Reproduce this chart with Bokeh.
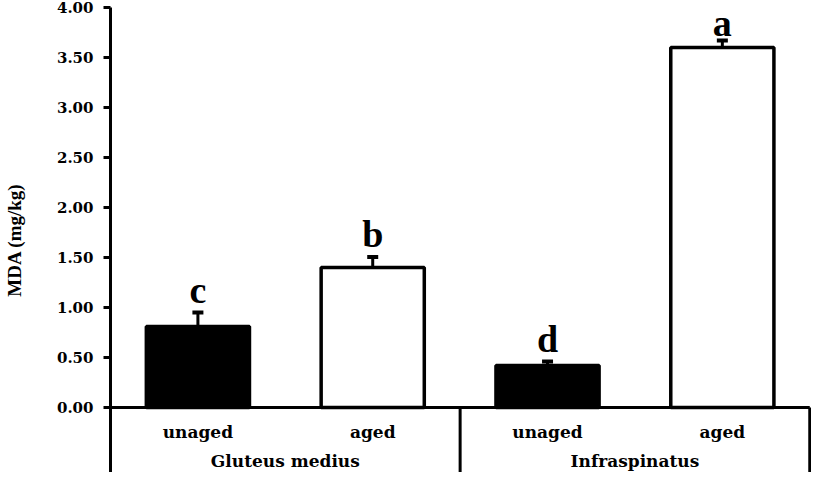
from bokeh.plotting import figure
from bokeh.models import (Range1d, FixedTicker, ColumnDataSource, Whisker, TeeHead,
                          NumeralTickFormatter, LabelSet)
from bokeh.embed import file_html
from bokeh.resources import INLINE
from bokeh.core.properties import value

# ---- data ----
muscles = ["Gluteus medius", "Infraspinatus"]
conditions = ["unaged", "aged"]
mda = [0.81, 1.40, 0.42, 3.60]          # mean MDA (mg/kg)
err = [0.14, 0.105, 0.04, 0.07]         # error bar half-length
letters = ["c", "b", "d", "a"]          # significance letters
y_ticks = [0.0, 0.5, 1.0, 1.5, 2.0, 2.5, 3.0, 3.5, 4.0]

# ---- derived positions (one slot per bar) ----
n_slots = len(muscles) * len(conditions)
xs = [i + 0.5 for i in range(n_slots)]
cond_labels = [c for m in muscles for c in conditions]
fills = ["black" if c == "unaged" else "white" for c in cond_labels]
group_x = [len(conditions) * (g + 0.5) for g in range(len(muscles))]
sep_x = [len(conditions) * (g + 1) for g in range(len(muscles))]

LETTER_GAP = 0.23   # gap between whisker cap and letter centre (data units)
LETTER_MAX = 3.85   # keep the top letter inside the canvas
y_bottom = -0.65
p = figure(width=811, height=472, output_backend="svg", toolbar_location=None,
           x_range=Range1d(0, n_slots + 0.01), y_range=Range1d(y_bottom, 4.0),
           x_axis_location=None, min_border_left=107, min_border_right=0,
           min_border_top=7, min_border_bottom=0)
p.xgrid.visible = False
p.ygrid.visible = False
p.outline_line_color = None
p.background_fill_color = "white"

ya = p.yaxis[0]
ya.ticker = FixedTicker(ticks=y_ticks)
ya.formatter = NumeralTickFormatter(format="0.00")
ya.axis_line_width = 3
ya.axis_line_color = "black"
ya.major_tick_line_width = 3
ya.major_tick_line_color = "black"
ya.major_tick_out = 7
ya.major_tick_in = 0
ya.minor_tick_line_color = None
ya.major_label_text_font = "DejaVu Serif"
ya.major_label_text_font_style = "bold"
ya.major_label_text_font_size = "15px"
ya.major_label_text_color = "black"
ya.major_label_standoff = 10
ya.axis_label = "MDA (mg/kg)"
ya.axis_label_text_font = "Liberation Serif"
ya.axis_label_text_font_style = "bold"
ya.axis_label_text_font_size = "19px"
ya.axis_label_text_color = "black"
ya.axis_label_standoff = 29

upper = [m + e for m, e in zip(mda, err)]
src = ColumnDataSource(dict(x=xs, top=mda, fill=fills,
                            upper=upper,
                            lower=[m - e for m, e in zip(mda, err)],
                            letter_y=[min(u + LETTER_GAP, LETTER_MAX) for u in upper],
                            letter=letters, cond=cond_labels))

p.vbar(x="x", top="top", bottom=0, width=0.59, source=src, fill_color="fill",
       line_color="black", line_width=3.5)

wh = Whisker(source=src, base="x", upper="upper", lower="lower",
             line_color="black", line_width=3,
             upper_head=TeeHead(size=11, line_width=4, line_color="black"),
             lower_head=TeeHead(size=11, line_width=4, line_color="black"))
p.add_layout(wh)

# significance letters (annotation, not clipped by the frame)
letter_set = LabelSet(x="x", y="letter_y", text="letter", source=src,
                      text_font="Liberation Serif", text_font_style="bold",
                      text_font_size="38px", text_align="center",
                      text_baseline="middle", text_color="black")
p.add_layout(letter_set)

# baseline axis and group separators
p.segment(x0=0, y0=0, x1=n_slots, y1=0, line_color="black", line_width=3)
p.segment(x0=sep_x, y0=[y_bottom] * len(sep_x), x1=sep_x, y1=[0] * len(sep_x),
          line_color="black", line_width=3)

# category labels
p.text(x="x", y=-0.24, text="cond", source=src,
       text_font=value("DejaVu Serif"), text_font_style="bold",
       text_font_size="17px", text_align="center", text_baseline="middle",
       text_color="black")
p.text(x=group_x, y=[-0.53] * len(group_x), text=muscles,
       text_font=value("DejaVu Serif"), text_font_style="bold",
       text_font_size="17px", text_align="center", text_baseline="middle",
       text_color="black")

open("out.html", "w").write(file_html(p, INLINE))
